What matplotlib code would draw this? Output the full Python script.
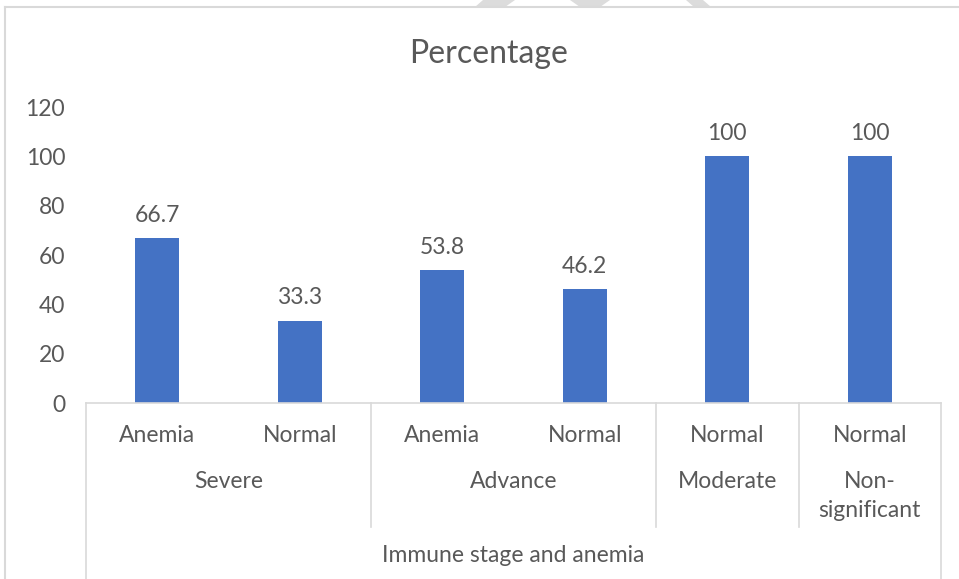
import matplotlib
matplotlib.use("Agg")
import matplotlib.pyplot as plt
from matplotlib.transforms import blended_transform_factory
from matplotlib.patches import Polygon
from matplotlib.lines import Line2D

# ---- data ----
sub_labels = ["Anemia", "Normal", "Anemia", "Normal", "Normal", "Normal"]
groups = ["Severe", "Advance", "Moderate", "Non-\nsignificant"]
group_sizes = [2, 2, 1, 1]
values = [66.7, 33.3, 53.8, 46.2, 100, 100]
value_labels = ["66.7", "33.3", "53.8", "46.2", "100", "100"]
yticks = [0, 20, 40, 60, 80, 100, 120]
title = "Percentage"
axis_title = "Immune stage and anemia"

W, H = 959, 579
plt.rcParams['font.family'] = ['Lato', 'DejaVu Sans']
TXT = "#595959"
LINE = "#d9d9d9"
BAR = "#4472c4"
FS = 16.5

fig = plt.figure(figsize=(W / 100, H / 100), dpi=100)
fig.patch.set_facecolor("white")

def fy(py):
    return 1 - py / H

def fx(px):
    return px / W

# chart border
fig.add_artist(Line2D([fx(5), fx(5)], [fy(7), 0], color=LINE, lw=1.5))
fig.add_artist(Line2D([fx(5), 1], [fy(7), fy(7)], color=LINE, lw=1.5))

# watermark fragments at the top
for pts in [[(483, 0), (515, 0), (505, 7), (475, 7)],
            [(570, 0), (610, 0), (600, 7), (580, 7)],
            [(686, 0), (703, 0), (711, 7), (694, 7)]]:
    fig.add_artist(Polygon([(fx(x), fy(y)) for x, y in pts], closed=True,
                           facecolor="#dcdcdc", edgecolor="none"))

ax = fig.add_axes([fx(86), fy(403), fx(941) - fx(86), fy(107) - fy(403)])
x = list(range(len(values)))
ax.bar(x, values, width=0.31, color=BAR, zorder=2)
ax.set_xlim(-0.5, len(values) - 0.5)
ax.set_ylim(0, 120)
ax.set_yticks(yticks)
ax.set_yticklabels([str(t) for t in yticks], color=TXT, fontsize=FS)
ax.tick_params(axis='y', length=0, pad=15)
ax.set_xticks([])
for s in ["top", "right", "left"]:
    ax.spines[s].set_visible(False)
ax.spines["bottom"].set_color(LINE)
ax.spines["bottom"].set_linewidth(1.2)

for xi, v, lab in zip(x, values, value_labels):
    ax.annotate(lab, (xi, v), xytext=(0, 9), textcoords="offset points",
                ha="center", va="bottom", color=TXT, fontsize=FS)

tr = blended_transform_factory(ax.transData, fig.transFigure)

# level 1 labels
for xi, lab in zip(x, sub_labels):
    ax.text(xi, fy(435), lab, transform=tr, ha="center", va="center",
            color=TXT, fontsize=FS)

# level 2 labels and separators
start = -0.5
bounds = [start]
for g, n in zip(groups, group_sizes):
    c = start + n / 2
    if "\n" in g:
        ax.text(c, fy(496), g, transform=tr, ha="center", va="center",
                color=TXT, fontsize=FS, linespacing=1.45)
    else:
        ax.text(c, fy(481), g, transform=tr, ha="center", va="center",
                color=TXT, fontsize=FS)
    start += n
    bounds.append(start)

for b in bounds[1:-1]:
    ax.add_line(Line2D([b, b], [fy(403), fy(527)], transform=tr, color=LINE,
                       lw=1.2, clip_on=False))
for b in [bounds[0], bounds[-1]]:
    ax.add_line(Line2D([b, b], [fy(403), 0], transform=tr, color=LINE,
                       lw=1.2, clip_on=False))

# level 3 label
ax.text((bounds[0] + bounds[-1]) / 2, fy(556), axis_title, transform=tr,
        ha="center", va="center", color=TXT, fontsize=FS)

fig.text(fx(489), fy(54), title, ha="center", va="center",
         color=TXT, fontsize=23)

fig.savefig("out.png", dpi=100, facecolor="white")
